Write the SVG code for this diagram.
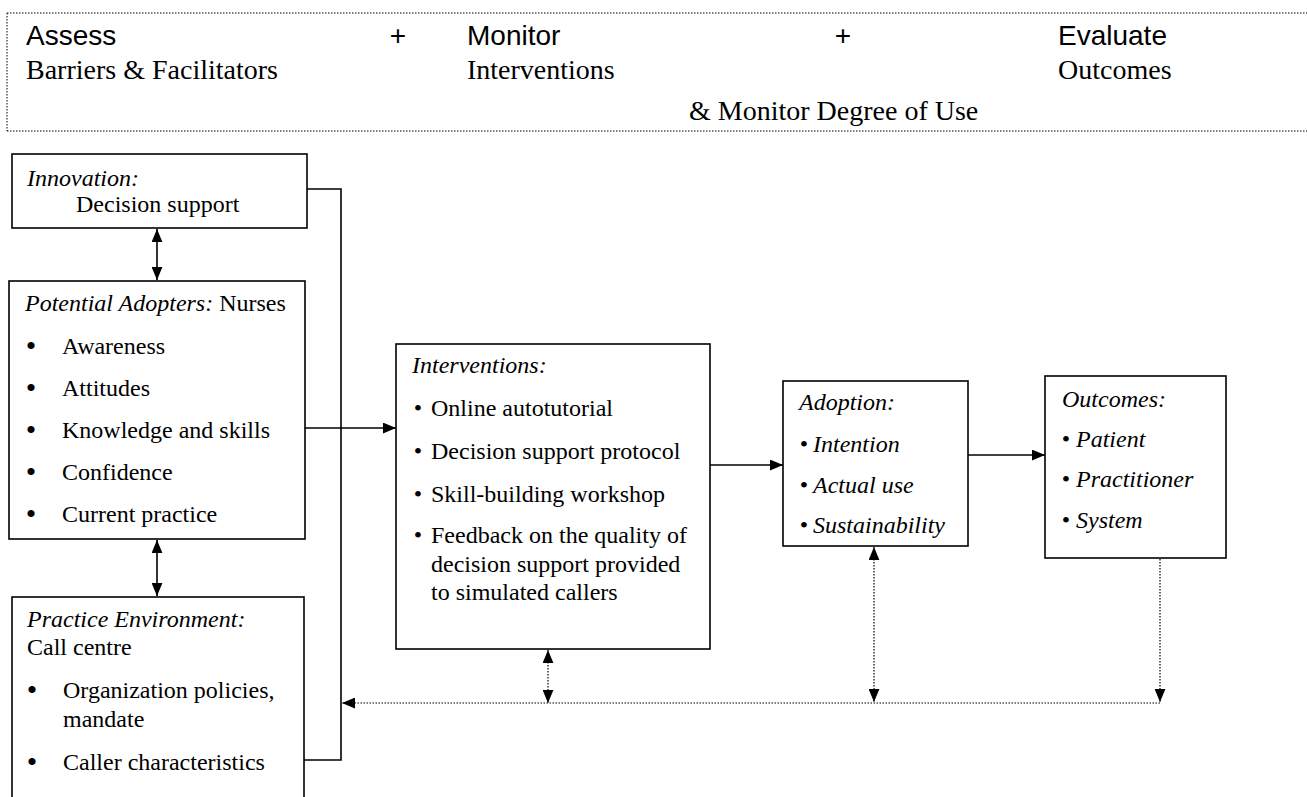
<svg xmlns="http://www.w3.org/2000/svg" width="1307" height="797" viewBox="0 0 1307 797">
<style>
  .bx{fill:#fff;stroke:#000;stroke-width:1.6}
  .ln{fill:none;stroke:#000;stroke-width:1.6}
  .dt{fill:none;stroke:#000;stroke-width:1.2;stroke-dasharray:1.5 1.5}
  .hd{fill:none;stroke:#000;stroke-width:1;stroke-dasharray:1.5 1.5}
  .s{font-family:"Liberation Serif","Times New Roman",serif;font-size:24px;fill:#000}
  .i{font-style:italic}
  .a{font-family:"Liberation Sans",Arial,sans-serif;font-size:28px;fill:#000}
  .h{font-family:"Liberation Serif","Times New Roman",serif;font-size:28px;fill:#000}
  .b{text-anchor:middle}
  .bb{font-size:30px}
</style>
<defs>
  <marker id="ah" viewBox="0 0 12 10" refX="12" refY="5" markerWidth="13" markerHeight="11" markerUnits="userSpaceOnUse" orient="auto-start-reverse">
    <path d="M0,0 L12,5 L0,10 z" fill="#000"/>
  </marker>
</defs>
<rect width="1307" height="797" fill="#fff"/>

<g id="header">
  <path class="hd" d="M7,13 H1307 M7,131 H1307 M7,13 V131"/>
  <text class="a" x="26" y="45">Assess</text>
  <text class="h" x="26" y="79">Barriers &amp; Facilitators</text>
  <text class="a b" x="398" y="45">+</text>
  <text class="a" x="467" y="45">Monitor</text>
  <text class="h" x="467" y="79">Interventions</text>
  <text class="a b" x="843" y="45">+</text>
  <text class="a" x="1058" y="45">Evaluate</text>
  <text class="h" x="1058" y="79">Outcomes</text>
  <text class="h" x="689" y="120">&amp; Monitor Degree of Use</text>
</g>

<g id="connectors">
  <path class="ln" d="M307,189 H341 V760 H304"/>
  <path class="ln" d="M157,229 V280" marker-start="url(#ah)" marker-end="url(#ah)"/>
  <path class="ln" d="M157,540 V596" marker-start="url(#ah)" marker-end="url(#ah)"/>
  <path class="ln" d="M305,428 H396" marker-end="url(#ah)"/>
  <path class="ln" d="M710,465 H783" marker-end="url(#ah)"/>
  <path class="ln" d="M968,455 H1045" marker-end="url(#ah)"/>
  <path class="dt" d="M548,650 V703" marker-start="url(#ah)" marker-end="url(#ah)"/>
  <path class="dt" d="M874,547 V702" marker-start="url(#ah)" marker-end="url(#ah)"/>
  <path class="dt" d="M1160,559 V702" marker-end="url(#ah)"/>
  <path class="dt" d="M1160,703 H342" marker-end="url(#ah)"/>
</g>

<g id="innovation">
  <rect class="bx" x="12" y="154" width="295" height="74"/>
  <text class="s i" x="27" y="186">Innovation:</text>
  <text class="s" x="76" y="212">Decision support</text>
</g>

<g id="adopters">
  <rect class="bx" x="9" y="281" width="296" height="258"/>
  <text class="s" x="25" y="311"><tspan class="i">Potential Adopters:</tspan> Nurses</text>
  <text class="s b bb" x="31" y="356">•</text><text class="s" x="62" y="354">Awareness</text>
  <text class="s b bb" x="31" y="398">•</text><text class="s" x="62" y="396">Attitudes</text>
  <text class="s b bb" x="31" y="440">•</text><text class="s" x="62" y="438">Knowledge and skills</text>
  <text class="s b bb" x="31" y="482">•</text><text class="s" x="62" y="480">Confidence</text>
  <text class="s b bb" x="31" y="524">•</text><text class="s" x="62" y="522">Current practice</text>
</g>

<g id="environment">
  <rect class="bx" x="12" y="597" width="292" height="220"/>
  <text class="s i" x="27" y="627">Practice Environment:</text>
  <text class="s" x="27" y="655">Call centre</text>
  <text class="s b bb" x="32" y="700">•</text><text class="s" x="63" y="698">Organization policies,</text>
  <text class="s" x="63" y="727">mandate</text>
  <text class="s b bb" x="32" y="772">•</text><text class="s" x="63" y="770">Caller characteristics</text>
</g>

<g id="interventions">
  <rect class="bx" x="396" y="344" width="314" height="305"/>
  <text class="s i" x="412" y="373">Interventions:</text>
  <text class="s b" x="418" y="416">•</text><text class="s" x="431" y="416">Online autotutorial</text>
  <text class="s b" x="418" y="459">•</text><text class="s" x="431" y="459">Decision support protocol</text>
  <text class="s b" x="418" y="502">•</text><text class="s" x="431" y="502">Skill-building workshop</text>
  <text class="s b" x="418" y="543">•</text><text class="s" x="431" y="543">Feedback on the quality of</text>
  <text class="s" x="431" y="572">decision support provided</text>
  <text class="s" x="431" y="600">to simulated callers</text>
</g>

<g id="adoption">
  <rect class="bx" x="783" y="381" width="185" height="165"/>
  <text class="s i" x="799" y="410">Adoption:</text>
  <text class="s b" x="804" y="452">•</text><text class="s i" x="813" y="452">Intention</text>
  <text class="s b" x="804" y="493">•</text><text class="s i" x="813" y="493">Actual use</text>
  <text class="s b" x="804" y="533">•</text><text class="s i" x="813" y="533">Sustainability</text>
</g>

<g id="outcomes">
  <rect class="bx" x="1045" y="376" width="181" height="182"/>
  <text class="s i" x="1062" y="407">Outcomes:</text>
  <text class="s b" x="1066" y="447">•</text><text class="s i" x="1076" y="447">Patient</text>
  <text class="s b" x="1066" y="487">•</text><text class="s i" x="1076" y="487">Practitioner</text>
  <text class="s b" x="1066" y="528">•</text><text class="s i" x="1076" y="528">System</text>
</g>
</svg>
